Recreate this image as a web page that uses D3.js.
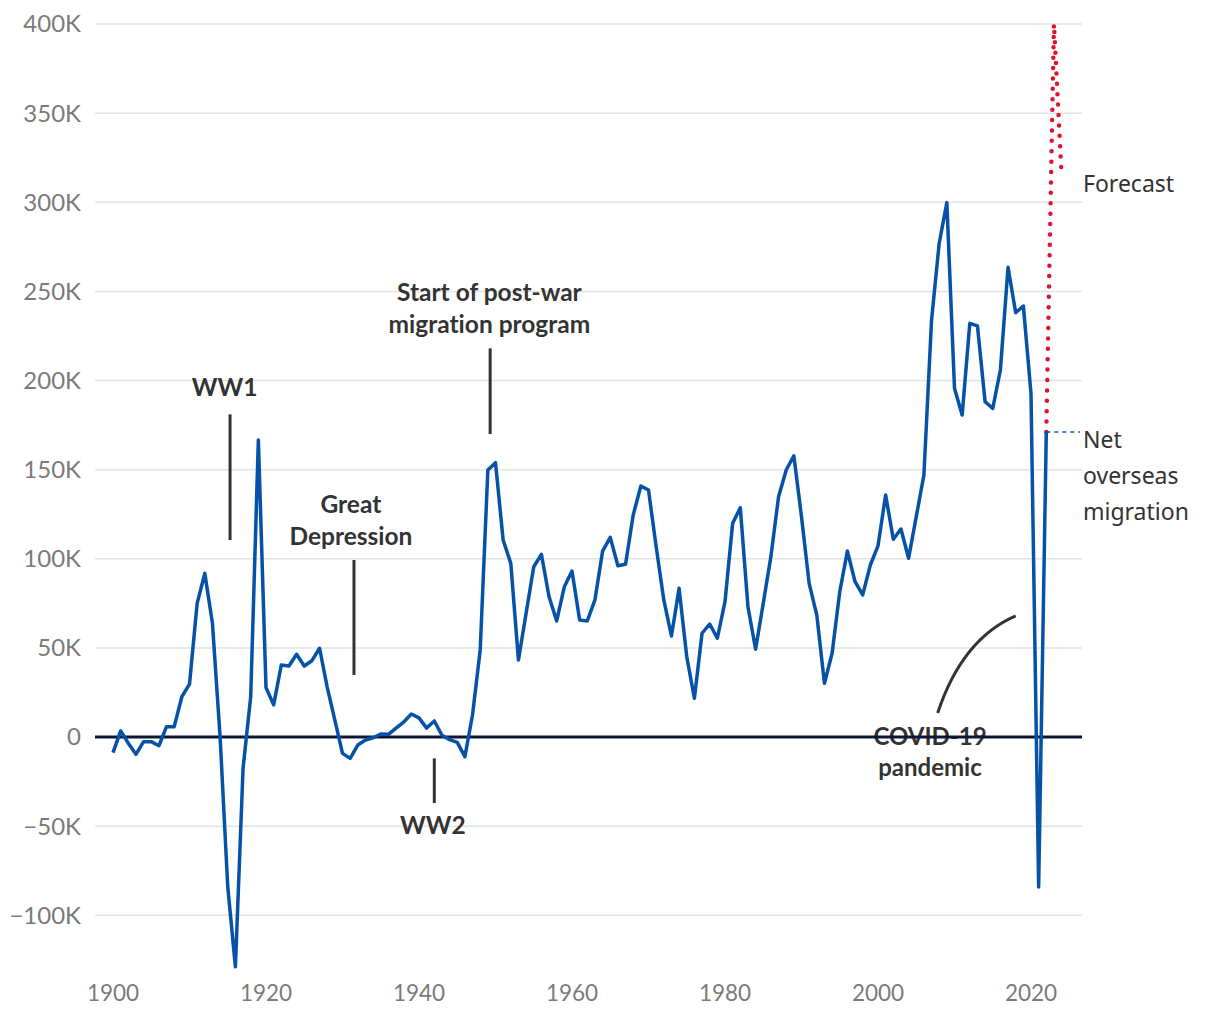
<!DOCTYPE html>
<html><head><meta charset="utf-8">
<script src="https://cdn.jsdelivr.net/npm/d3@7"></script>
<style>body{margin:0;background:#fff} text{font-variant-ligatures:none;font-feature-settings:"liga" 0}</style>
</head><body>
<svg id="c" width="1220" height="1020"></svg>
<script>
const years = d3.range(1900, 2023);
const migration = [
-8.8,3.4,-3.5,-9.7,-2.6,-2.6,-4.9,5.8,5.8,22.6,
29.7,75,91.8,63.8,0,-84,-128.9,-17.6,22.6,166.6,
27.7,18,40.4,39.8,46.4,39.8,42.8,49.8,28,9.5,
-9.2,-12,-4.5,-1.7,-0.4,1.7,1.5,5,8.4,12.9,
10.7,5,9,1,-1.5,-3,-11,12.5,48.8,149.8,
153.9,110.5,97.4,43.2,69.4,95.5,102.5,78.7,65.1,84.3,
93.1,65.6,65.1,76.9,104.3,112,96.1,96.9,124.5,140.8,
138.6,106.8,76.9,56.7,83.4,45,21.7,58.2,63.4,55.4,
75.9,119.9,128.6,73.1,49.2,75,101.2,134.8,149.8,157.8,
123.6,86.2,68.4,30.1,47,81.5,104.3,87.1,79.7,96.5,
107.2,135.8,110.9,116.7,100.3,123.6,147,233.9,277,299.8,
195.6,180.6,232.1,230.6,188.1,184.4,205.9,263.5,238,241.8,
192.8,-84.2,171.1
];
const forecastYears = [2022, 2023, 2024];
const forecastValues = [171.1, 400, 315];
const yTicks = [-100,-50,0,50,100,150,200,250,300,350,400];
const xTicks = [1900,1920,1940,1960,1980,2000,2020];
const annotations = [
  {lines:["WW1"], x:1914.6, y:196, line:[1915.3, 181, 110.5]},
  {lines:["Great","Depression"], x:1931.1, y:130.7, line:[1931.5, 99.3, 34.8]},
  {lines:["Start of post-war","migration program"], x:1949.2, y:249.6, line:[1949.3, 218, 170]},
  {lines:["WW2"], x:1941.8, y:-49.7, line:[1942, -12, -37]}
];

const svg = d3.select("#c");
const left = 95, right = 1082;
const x = d3.scaleLinear().domain([1900, 2020]).range([113, 1031]);
const y = d3.scaleLinear().domain([0, 400]).range([737, 24]);
const tickFont = "Lato, 'Source Sans Pro', sans-serif";

// grid
svg.append("g").selectAll("line").data(yTicks.filter(d=>d!==0)).join("line")
  .attr("x1", left).attr("x2", right)
  .attr("y1", d=>y(d)).attr("y2", d=>y(d))
  .attr("stroke", "#e3e3e3").attr("stroke-width", 1.5);

// y labels
svg.append("g").selectAll("text").data(yTicks).join("text")
  .attr("x", 81).attr("y", d=>y(d)).attr("dy", "0.35em")
  .attr("text-anchor", "end")
  .attr("font-family", tickFont).attr("font-size", 24).attr("fill", "#7a7a7a")
  .text(d => d === 0 ? "0" : (d < 0 ? "\u2212" + Math.abs(d) : d) + "K");

// x labels
svg.append("g").selectAll("text").data(xTicks).join("text")
  .attr("x", d=>x(d)).attr("y", 1001)
  .attr("text-anchor", "middle")
  .attr("font-family", tickFont).attr("font-size", 22.5).attr("fill", "#7a7a7a")
  .text(d=>d);

// annotations
const annFont = "Lato, sans-serif";
annotations.forEach(a => {
  const ty = y(a.y);
  a.lines.forEach((t,i) => {
    svg.append("text").attr("x", x(a.x)).attr("y", ty + i*32)
      .attr("text-anchor", "middle").attr("dy", "0.35em")
      .attr("font-family", annFont).attr("font-weight", 700)
      .attr("font-size", 24.5).attr("fill", "#333").text(t);
  });
  svg.append("line").attr("x1", x(a.line[0])).attr("x2", x(a.line[0]))
    .attr("y1", y(a.line[1])).attr("y2", y(a.line[2]))
    .attr("stroke", "#333").attr("stroke-width", 3);
});

// COVID annotation
["COVID-19","pandemic"].forEach((t,i) => {
  svg.append("text").attr("x", x(2006.8)).attr("y", y(0) + i*31).attr("dy","0.35em")
    .attr("text-anchor","middle").attr("font-family", annFont).attr("font-weight",700)
    .attr("font-size",24).attr("fill","#333").text(t);
});
const cp = d3.path();
cp.moveTo(x(2007.8), y(13.5));
cp.quadraticCurveTo(x(2011), y(55), x(2018), y(68));
svg.append("path").attr("d", cp.toString()).attr("fill","none")
  .attr("stroke","#333").attr("stroke-width",3);

// zero line
svg.append("line").attr("x1", left).attr("x2", right)
  .attr("y1", y(0)).attr("y2", y(0))
  .attr("stroke", "#0c1634").attr("stroke-width", 3);

// forecast
const line = d3.line().x(d=>x(d[0])).y(d=>y(d[1]));
svg.append("path").attr("d", line(forecastYears.map((d,i)=>[d, forecastValues[i]])))
  .attr("fill","none").attr("stroke","#e1122f").attr("stroke-width",4.5)
  .attr("stroke-linecap","round").attr("stroke-dasharray","0 10.4");

// main line
svg.append("path").attr("d", line(years.map((d,i)=>[d, migration[i]])))
  .attr("fill","none").attr("stroke","#0552a8").attr("stroke-width",3.5)
  .attr("stroke-linejoin","round");

// label leader
const last = migration[migration.length-1];
svg.append("line").attr("x1", x(2022)).attr("x2", 1080)
  .attr("y1", y(last)).attr("y2", y(last))
  .attr("stroke","#0552a8").attr("stroke-width",1.5).attr("stroke-dasharray","4 4");

const lblFont = "'Noto Sans', 'Open Sans', sans-serif";
svg.append("text").attr("x",1083).attr("y", y(310)).attr("dy","0.35em")
  .attr("font-family",lblFont).attr("font-size",23).attr("fill","#333").text("Forecast");
["Net","overseas","migration"].forEach((t,i)=>{
  svg.append("text").attr("x",1083).attr("y", y(last)+8+i*36).attr("dy","0.35em")
    .attr("font-family",lblFont).attr("font-size",23).attr("fill","#333").text(t);
});
</script>
</body></html>
